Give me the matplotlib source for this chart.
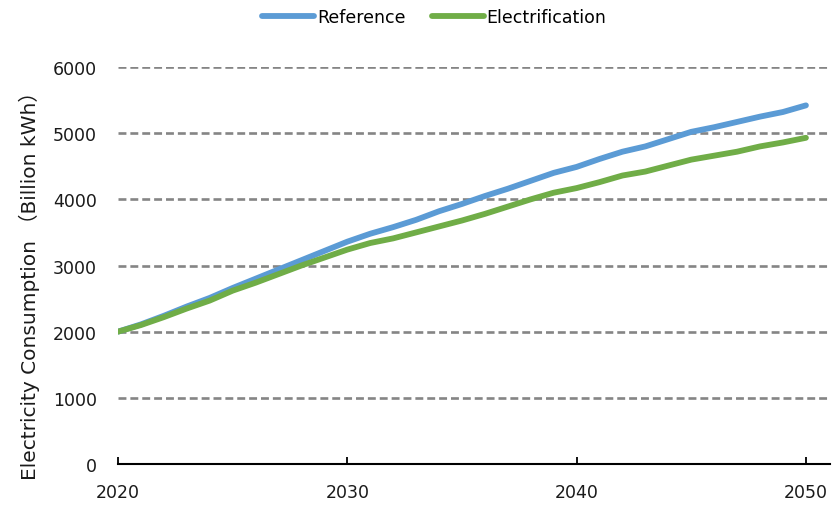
#!/usr/bin/env python3
"""
Electricity consumption outlook: Reference vs Electrification, 2020-2050
"""

import matplotlib
matplotlib.use('Agg')
import matplotlib.pyplot as plt

# --------------------------------------------------
# data (billion kWh)
years = list(range(2020, 2051))

reference = [2000, 2110, 2240, 2380, 2510, 2660, 2800, 2940, 3080, 3220,
             3360, 3480, 3580, 3690, 3820, 3930, 4050, 4160, 4280, 4400,
             4490, 4610, 4720, 4800, 4910, 5020, 5090, 5170, 5250, 5320,
             5420]

electrification = [2000, 2100, 2220, 2350, 2470, 2620, 2740, 2870, 3000, 3120,
                   3240, 3340, 3410, 3500, 3590, 3680, 3780, 3890, 4000, 4100,
                   4170, 4260, 4360, 4420, 4510, 4600, 4660, 4720, 4800, 4860,
                   4930]

x_ticks = [2020, 2030, 2040, 2050]
y_ticks = [0, 1000, 2000, 3000, 4000, 5000, 6000]


# --------------------------------------------------
def main():
    """draw the chart"""
    plt.rcParams['font.family'] = ['DejaVu Sans', 'Noto Sans CJK SC']

    fig = plt.figure(figsize=(8.32, 5.06), dpi=100)
    ax = fig.add_axes([118 / 832, 1 - 465 / 506, 712 / 832, 397 / 506])

    # dashed horizontal gridlines
    for v in y_ticks[1:]:
        ax.axhline(v, color='#858585', lw=1.9, ls=(0, (3.0, 1.5)), zorder=1)

    ax.plot(years, reference, color='#5b9bd5', lw=4.2, solid_capstyle='round',
            label='Reference', zorder=3)
    ax.plot(years, electrification, color='#70ad47', lw=4.2,
            solid_capstyle='round', label='Electrification', zorder=3)

    ax.set_xlim(2020, 2051.05)
    ax.set_ylim(0, 6000)
    ax.set_xticks(x_ticks)
    ax.set_yticks(y_ticks)

    for side in ['left', 'right', 'top']:
        ax.spines[side].set_visible(False)
    ax.spines['bottom'].set_color('black')
    ax.spines['bottom'].set_linewidth(1.5)
    ax.spines['bottom'].set_zorder(4)

    ax.tick_params(axis='x', direction='in', length=5, width=1.3,
                   pad=14, labelsize=12.5, colors='black')
    ax.tick_params(axis='y', length=0, pad=15, labelsize=12.5)
    for lab in ax.get_xticklabels() + ax.get_yticklabels():
        lab.set_color('#1a1a1a')

    ax.set_ylabel('Electricity Consumption （Billion kWh）', fontsize=14.5,
                  color='#1a1a1a')
    ax.yaxis.set_label_coords(-0.11, 0.463)

    fig.legend(loc='center', bbox_to_anchor=(0.522, 1 - 18 / 506),
               ncol=2, frameon=False, fontsize=12.5, handlelength=3.0,
               handletextpad=0.15, columnspacing=1.5)

    plt.savefig('out.png', dpi=100)


# --------------------------------------------------
if __name__ == '__main__':
    main()
